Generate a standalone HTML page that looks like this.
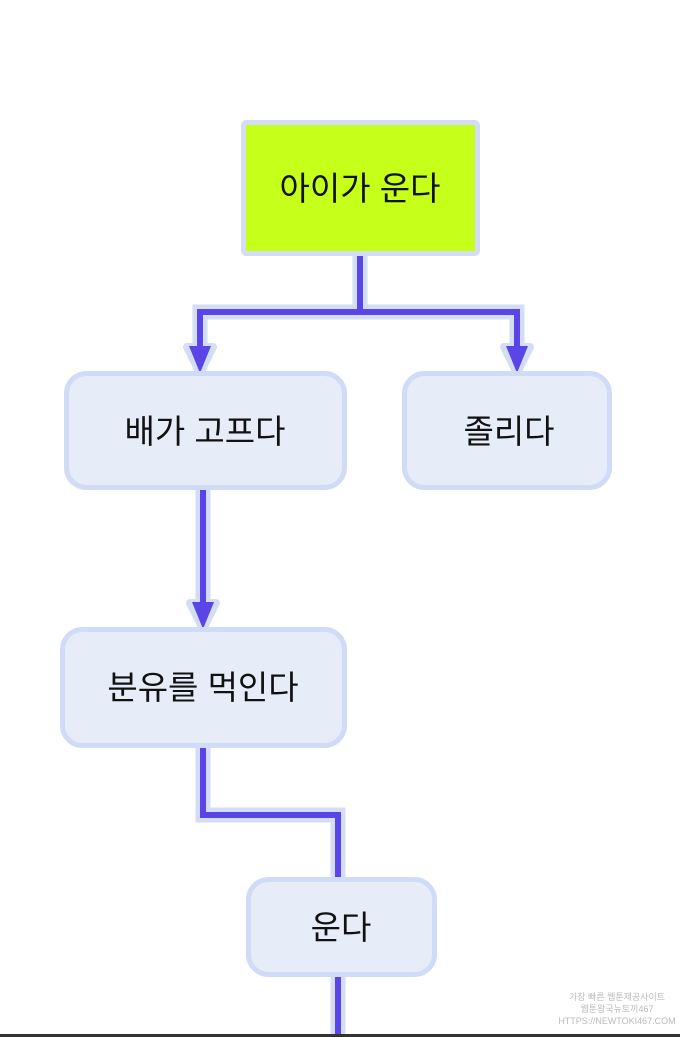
<!DOCTYPE html>
<html><head><meta charset="utf-8"><style>
html,body{margin:0;padding:0;background:#fff;width:680px;height:1037px;overflow:hidden}
svg{display:block}
text{font-family:"Liberation Sans","Noto Sans CJK KR","NanumGothic",sans-serif;fill:#111}
</style></head><body>
<svg width="680" height="1037" viewBox="0 0 680 1037" xmlns="http://www.w3.org/2000/svg">
<g fill="none" stroke="#d3ddf6" stroke-width="15" stroke-linejoin="miter">
<polyline points="360,256 360,312 200,312 200,350"/>
<polyline points="360,312 517,312 517,350"/>
<polyline points="203,490 203,605"/>
<polyline points="203,748 203,815 338,815 338,878"/>
<polyline points="338,977 338,1034"/>
</g>
<g fill="#d3ddf6" stroke="#d3ddf6" stroke-width="8" stroke-linejoin="round">
<polygon points="187,347 213,347 200,373"/>
<polygon points="504,347 530,347 517,373"/>
<polygon points="190,603 216,603 203,629"/>
</g>
<g fill="none" stroke="#5a45e6" stroke-width="6" stroke-linejoin="miter">
<polyline points="360,256 360,312 200,312 200,352"/>
<polyline points="360,312 517,312 517,352"/>
<polyline points="203,490 203,607"/>
<polyline points="203,748 203,815 338,815 338,878"/>
<polyline points="338,977 338,1034"/>
</g>
<g fill="#5a45e6">
<polygon points="189,346 211,346 200,373"/>
<polygon points="506,346 528,346 517,373"/>
<polygon points="192,602 214,602 203,629"/>
</g>
<rect x="243.5" y="122.5" width="234" height="131" rx="3" fill="#c6ff1a" stroke="#d3ddf6" stroke-width="5"/>
<text x="360" y="200" font-size="33" text-anchor="middle">아이가 운다</text>
<g fill="#e6ecf8" stroke="#d0dbf7" stroke-width="5">
<rect x="66.5" y="373.5" width="278" height="114" rx="20"/>
<rect x="404.5" y="373.5" width="205" height="114" rx="20"/>
<rect x="62.5" y="629.5" width="282" height="116" rx="20"/>
<rect x="248.5" y="879.5" width="186" height="95" rx="20"/>
</g>
<text x="205" y="443" font-size="33" text-anchor="middle">배가 고프다</text>
<text x="509" y="443" font-size="33" text-anchor="middle">졸리다</text>
<text x="203" y="699" font-size="33" text-anchor="middle">분유를 먹인다</text>
<text x="341" y="939" font-size="33" text-anchor="middle">운다</text>
<g font-size="9" text-anchor="middle">
<text x="617" y="1000" style="fill:#bbb">가장 빠른 웹툰제공사이트</text>
<text x="617" y="1012" style="fill:#bbb">웹툰왕국뉴토끼467</text>
<text x="617" y="1024" style="fill:#bbb">HTTPS://NEWTOKI467.COM</text>
</g>
<rect x="0" y="1034" width="680" height="3" fill="#333"/>
</svg>
</body></html>
